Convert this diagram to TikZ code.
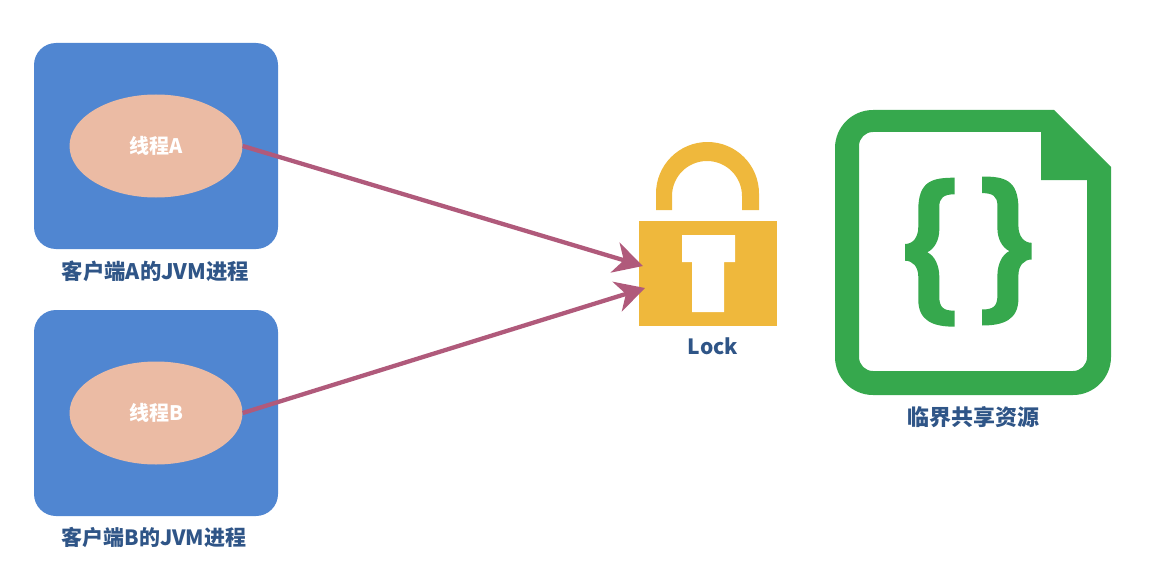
\documentclass[tikz,border=0pt]{standalone}
\usepackage{fontspec}
\setmainfont{Noto Sans CJK SC}
\usepackage{xcolor}
\definecolor{BoxBlue}{HTML}{5086D1}
\definecolor{Peach}{HTML}{EBBBA4}
\definecolor{LockGold}{HTML}{EFB83C}
\definecolor{DocGreen}{HTML}{36A84D}
\definecolor{Rose}{HTML}{B05A7B}
\definecolor{LabelBlue}{HTML}{2F5587}
\usetikzlibrary{arrows.meta, shapes.geometric}
\tikzset{
  jvmBox/.style={
    rectangle, rounded corners=22pt, fill=BoxBlue,
    minimum width=244pt, minimum height=206pt, inner sep=0pt
  },
  threadOval/.style={
    ellipse, fill=Peach, minimum width=173pt, minimum height=103pt,
    inner sep=0pt, text=white, font=\fontsize{20}{24}\selectfont\bfseries
  },
  lbl/.style={
    text=LabelBlue, inner sep=0pt, font=\fontsize{#1}{25}\selectfont\bfseries
  },
  lbl/.default=21,
  arr/.style={-{Stealth[length=29pt, width=31pt, inset=9pt]}, line width=4.3pt, color=Rose},
  curly/.pic={
    \fill[DocGreen] (0,0) .. controls (-22,0) and (-36.4,3) .. (-36.4,32)
      -- (-36.4,49) .. controls (-36.4,60) and (-42,66.3) .. (-49.7,66.3)
      -- (-49.7,83) .. controls (-42,83) and (-36.4,89) .. (-36.4,99)
      -- (-36.4,122) .. controls (-36.4,143) and (-22,149) .. (0,149)
      -- (0,133) .. controls (-11,133) and (-15.4,130) .. (-15.4,119)
      -- (-15.4,99) .. controls (-15.4,88) and (-20,78) .. (-27.4,74.6)
      .. controls (-20,71) and (-15.4,62) .. (-15.4,52)
      -- (-15.4,29) .. controls (-15.4,20) and (-11,16.6) .. (0,16.6) -- cycle;
  },
}
\begin{document}
\begin{tikzpicture}[x=1pt, y=-1pt]
\useasboundingbox (0,0) rectangle (1153,583);

% Two client processes
\node[jvmBox] at (156,146) (boxA) {};
\node[threadOval] at (156,146) (threadA) {线程A};
\node[lbl=21.4] at (155.5,271) (lblA) {客户端A的JVM进程};

\node[jvmBox] at (156,413) (boxB) {};
\node[threadOval] at (156,413) (threadB) {线程B};
\node[lbl] at (154,537) (lblB) {客户端B的JVM进程};

% Padlock
\fill[LockGold] (656,210) -- (656,193.5) arc[start angle=180, end angle=360, radius=51.5]
  -- (759,210) -- (742,210) -- (742,196) arc[start angle=0, end angle=-180, radius=35]
  -- (672,210) -- cycle;
\node[rectangle, fill=LockGold, minimum width=138pt, minimum height=105pt, inner sep=0pt] at (708,273.5) (lockBody) {};
\fill[white] (682,235) -- (735,235) -- (735,262) -- (724,262) -- (724,312)
  -- (692,312) -- (692,262) -- (682,262) -- cycle;
\node[lbl] at (713,346) (lblLock) {Lock};

% Arrow ends on the padlock
\coordinate (lockA) at (643,266);
\coordinate (lockB) at (645,288);
\draw[arr] (threadA.east) -- (lockA);
\draw[arr] (threadB.east) -- (lockB);

% Document icon
\fill[DocGreen, even odd rule] (873,110) -- (1054,110) -- (1111,167) -- (1111,357)
  arc[start angle=0, end angle=90, radius=38] -- (873,395)
  arc[start angle=90, end angle=180, radius=38] -- (835,148)
  arc[start angle=180, end angle=270, radius=38] -- cycle
  (873,132) -- (1041,132) -- (1041,180) -- (1087,180) -- (1087,357)
  arc[start angle=0, end angle=90, radius=14] -- (873,371)
  arc[start angle=90, end angle=180, radius=14] -- (859,146)
  arc[start angle=180, end angle=270, radius=14] -- cycle;
\pic at (954.7,177.7) {curly};
\pic[xscale=-1] at (982,176.5) {curly};
\node[lbl=22] at (973,417) (lblDoc) {临界共享资源};

\end{tikzpicture}
\end{document}
